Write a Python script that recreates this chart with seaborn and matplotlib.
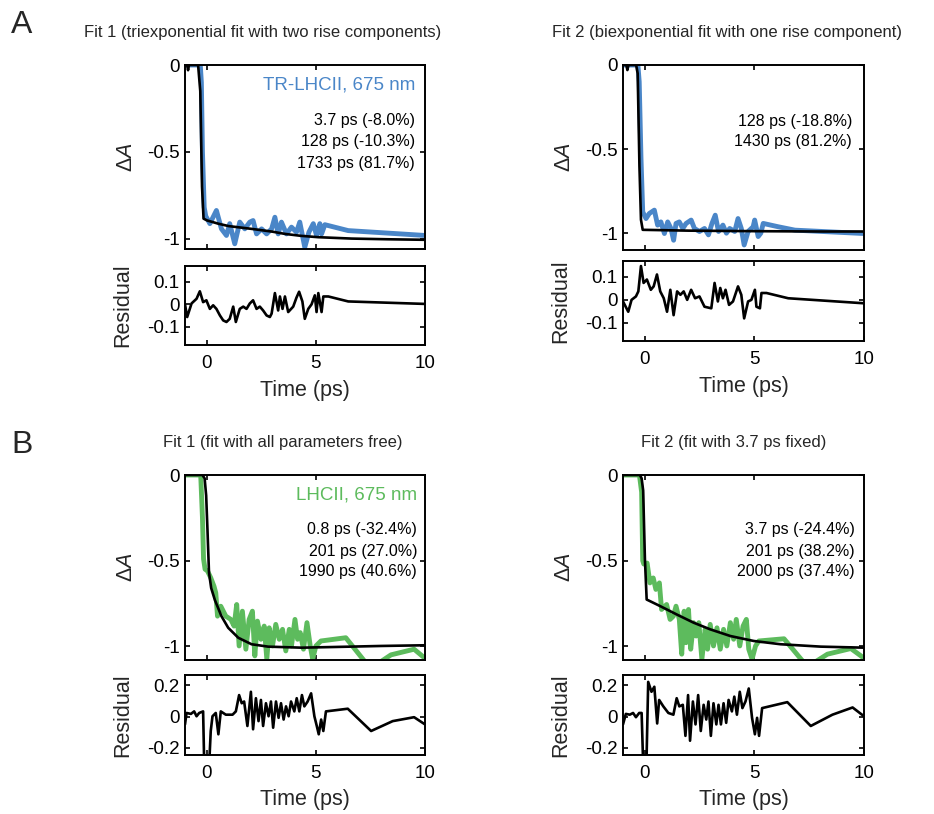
import matplotlib
matplotlib.use("Agg")
import matplotlib.pyplot as plt
import seaborn as sns

# ---------------------------------------------------------------------------
# Data (time in ps, transient absorption normalised to -1)
# ---------------------------------------------------------------------------
# A, fit 1: TR-LHCII trace, triexponential fit, residual
t_a1_data = [-1.0, -0.6, -0.3, -0.25, -0.2, -0.12, -0.05, 0.14, 0.44, 0.67, 0.90, 1.05,
             1.28, 1.51, 1.74, 1.97, 2.12, 2.28, 2.51, 2.74, 2.97, 3.12, 3.27, 3.42,
             3.65, 3.88, 4.11, 4.26, 4.49, 4.68, 4.88, 5.03, 5.18, 5.26, 5.41, 6.48, 10.0]
a1_data = [0.0, 0.0, 0.0, -0.1, -0.5, -0.82, -0.87, -0.914, -0.838, -0.944, -0.982, -0.914,
           -1.03, -0.905, -0.944, -0.905, -0.896, -0.973, -0.944, -0.973, -0.944, -0.877, -0.973, -0.905,
           -0.973, -0.934, -0.963, -0.905, -1.05, -0.963, -0.914, -0.982, -0.914, -0.973, -0.92, -0.954, -0.982]
t_a1_fit = [-1.0, -0.9, -0.86, -0.82, -0.4, -0.3, -0.22, -0.15, 0.0, 0.52, 1.0, 2.05,
            3.0, 3.58, 4.3, 5.11, 6.64, 8.3, 10.0]
a1_fit = [0.0, 0.0, -0.03, 0.0, 0.0, -0.15, -0.7, -0.885, -0.895, -0.914, -0.928, -0.944,
          -0.96, -0.973, -0.984, -0.992, -1.0, -1.004, -1.007]
t_a1_res = [-1.0, -0.9, -0.7, -0.47, -0.32, -0.17, -0.02, 0.14, 0.29, 0.44,
            0.6, 0.75, 0.9, 1.05, 1.21, 1.33, 1.51, 1.67, 1.82, 1.97,
            2.12, 2.28, 2.43, 2.58, 2.74, 2.89, 2.97, 3.12, 3.27, 3.35,
            3.47, 3.58, 3.73, 3.96, 4.11, 4.23, 4.38, 4.49, 4.65, 4.8,
            4.95, 5.03, 5.11, 5.26, 5.34, 5.57, 6.48, 10.0]
a1_res = [0.0, -0.056, 0.004, 0.025, 0.058, 0.01, 0.018, -0.02, -0.004, -0.02,
          -0.049, -0.071, -0.078, -0.064, -0.01, -0.078, -0.02, -0.01, -0.02, 0.004,
          0.018, -0.02, -0.01, -0.027, -0.049, -0.056, -0.041, 0.05, -0.027, 0.035,
          -0.02, 0.035, -0.034, -0.01, 0.03, 0.056, 0.013, -0.064, -0.02, 0.0,
          0.04, -0.034, 0.05, -0.034, 0.035, 0.035, 0.013, 0.002]

# A, fit 2: TR-LHCII trace, biexponential fit, residual
t_a2_data = [-1.0, -0.6, -0.32, -0.26, -0.18, -0.1, 0.05, 0.2, 0.43, 0.58,
             0.73, 0.89, 1.04, 1.19, 1.31, 1.42, 1.57, 1.73, 1.88, 2.11,
             2.26, 2.49, 2.72, 2.9, 3.06, 3.21, 3.36, 3.56, 3.72, 3.87,
             4.1, 4.25, 4.4, 4.53, 4.71, 4.94, 5.01, 5.17, 5.29, 5.4,
             6.09, 6.85, 10.0]
a2_data = [0.0, 0.0, 0.0, -0.1, -0.55, -0.873, -0.913, -0.883, -0.863, -0.952,
           -0.933, -1.002, -0.933, -0.972, -1.042, -0.942, -0.933, -0.972, -0.942, -0.922,
           -0.972, -0.99, -0.972, -1.01, -0.942, -0.893, -0.99, -0.952, -1.0, -0.972,
           -0.99, -0.913, -0.972, -1.07, -0.99, -0.962, -0.922, -1.02, -1.0, -0.942,
           -0.962, -0.982, -1.002]
t_a2_fit = [-1.0, -0.85, -0.8, -0.75, -0.4, -0.33, -0.25, -0.18, -0.1, 2.0, 5.0, 8.0, 10.0]
a2_fit = [0.0, 0.0, -0.03, 0.0, 0.0, -0.05, -0.6, -0.92, -0.98, -0.985, -0.988, -0.99, -0.99]
t_a2_res = [-1.0, -0.76, -0.61, -0.41, -0.3, -0.18, -0.06, 0.09, 0.27, 0.4,
            0.55, 0.7, 0.86, 1.01, 1.16, 1.31, 1.47, 1.62, 1.77, 1.93,
            2.11, 2.29, 2.49, 2.72, 3.03, 3.18, 3.33, 3.44, 3.56, 3.68,
            3.84, 4.02, 4.25, 4.4, 4.53, 4.71, 4.86, 5.02, 5.09, 5.25,
            5.32, 5.55, 6.54, 10.0]
a2_res = [-0.007, -0.052, 0.0, 0.015, 0.037, 0.148, 0.074, 0.089, 0.044, 0.059,
          0.111, 0.037, 0.007, -0.052, 0.044, -0.067, 0.037, 0.022, 0.037, 0.0,
          0.044, 0.007, 0.015, -0.03, -0.037, 0.074, -0.007, 0.052, 0.007, 0.044,
          -0.022, -0.007, 0.059, 0.022, -0.081, -0.007, 0.0, 0.044, -0.03, -0.037,
          0.03, 0.03, 0.007, -0.015]

# B, fit 1: LHCII trace, all parameters free
t_b1_data = [-1.0, -0.5, -0.28, -0.2, -0.15, -0.08, 0.03, 0.18, 0.33, 0.41,
             0.49, 0.64, 0.87, 1.10, 1.25, 1.37, 1.48, 1.63, 1.79, 1.94,
             2.09, 2.2, 2.32, 2.48, 2.63, 2.75, 2.86, 3.01, 3.16, 3.32,
             3.47, 3.62, 3.78, 3.88, 4.04, 4.16, 4.28, 4.43, 4.59, 4.74,
             4.85, 5.0, 5.23, 6.37, 7.5, 8.44, 9.5, 10.0]
b1_data = [0.0, 0.0, 0.0, -0.25, -0.49, -0.55, -0.56, -0.6, -0.65, -0.688,
           -0.824, -0.766, -0.824, -0.843, -0.882, -0.756, -0.998, -0.795, -1.017, -0.843,
           -0.795, -1.056, -0.853, -0.959, -0.882, -1.075, -0.892, -0.998, -0.872, -0.959,
           -0.901, -1.027, -0.901, -0.998, -0.843, -0.959, -0.92, -1.017, -0.862, -0.998,
           -1.075, -0.998, -0.969, -0.95, -1.13, -1.05, -1.017, -1.07]
t_b1_fit = [-1.0, -0.2, -0.1, -0.03, 0.03, 0.1, 0.2, 0.37, 0.67, 0.98,
            1.44, 2.05, 2.81, 4.34, 5.87, 8.0, 10.0]
b1_fit = [0.0, 0.0, -0.02, -0.12, -0.32, -0.57, -0.66, -0.73, -0.824, -0.892,
          -0.95, -0.988, -1.002, -1.008, -1.004, -0.998, -0.994]
t_b1_res = [-1.0, -0.93, -0.73, -0.58, -0.47, -0.35, -0.17, -0.12, 0.11, 0.18,
            0.26, 0.41, 0.53, 0.64, 0.87, 1.18, 1.33, 1.48, 1.6, 1.71,
            1.86, 2.02, 2.12, 2.25, 2.37, 2.48, 2.58, 2.71, 2.83, 2.94,
            3.04, 3.17, 3.29, 3.40, 3.52, 3.63, 3.75, 3.86, 4.01, 4.12,
            4.24, 4.36, 4.47, 4.62, 4.78, 4.93, 5.04, 5.13, 5.24, 5.34,
            5.46, 6.46, 7.53, 8.52, 9.5, 10.0]
b1_res = [-0.05, 0.023, 0.017, 0.033, 0.002, 0.023, 0.033, -0.3, -0.3, -0.092,
          0.002, 0.023, -0.113, 0.033, 0.012, 0.012, 0.033, 0.137, 0.085, 0.096,
          -0.06, 0.158, -0.081, 0.117, -0.029, 0.106, -0.06, 0.085, 0.002, 0.096,
          -0.071, 0.096, -0.008, 0.085, -0.019, 0.065, 0.002, 0.096, 0.033, 0.117,
          0.033, 0.137, 0.065, 0.096, 0.148, 0.002, -0.06, -0.113, -0.019, -0.092,
          0.033, 0.05, -0.092, -0.029, -0.004, -0.05]

# B, fit 2: LHCII trace, 3.7 ps component fixed
t_b2_data = [-1.0, -0.5, -0.25, -0.15, -0.1, -0.05, 0.1, 0.23, 0.38, 0.5,
             0.66, 0.76, 0.99, 1.15, 1.3, 1.42, 1.57, 1.68, 1.79, 1.88,
             1.99, 2.09, 2.22, 2.34, 2.46, 2.6, 2.75, 2.86, 2.98, 3.13,
             3.29, 3.44, 3.59, 3.74, 3.9, 4.05, 4.17, 4.33, 4.48, 4.63,
             4.74, 4.89, 5.05, 5.2, 6.35, 7.42, 8.33, 9.4, 9.86, 10.0]
b2_data = [0.0, 0.0, 0.0, -0.1, -0.5, -0.52, -0.514, -0.63, -0.601, -0.668,
           -0.63, -0.785, -0.756, -0.843, -0.824, -0.766, -0.843, -1.046, -0.795, -0.979,
           -0.785, -1.017, -0.862, -0.94, -0.862, -1.075, -0.901, -1.017, -0.872, -0.998,
           -0.892, -1.017, -0.901, -0.998, -0.862, -0.959, -0.843, -0.998, -0.882, -0.843,
           -1.017, -1.075, -0.998, -0.969, -0.956, -1.12, -1.046, -1.013, -1.056, -1.07]
t_b2_fit = [-1.0, -0.23, -0.15, -0.08, 0.0, 0.08, 0.69, 1.45, 2.22, 2.98,
            3.9, 4.97, 6.19, 8.03, 10.0]
b2_fit = [0.0, 0.0, -0.02, -0.09, -0.49, -0.727, -0.765, -0.814, -0.862, -0.901,
          -0.94, -0.969, -0.988, -1.002, -1.008]
t_b2_res = [-1.0, -0.87, -0.69, -0.54, -0.41, -0.26, -0.15, -0.08, 0.07, 0.15,
            0.3, 0.43, 0.56, 0.65, 0.84, 1.07, 1.3, 1.45, 1.57, 1.73,
            1.85, 1.97, 2.06, 2.19, 2.31, 2.43, 2.55, 2.68, 2.8, 2.9,
            3.01, 3.13, 3.26, 3.36, 3.47, 3.59, 3.71, 3.82, 3.97, 4.08,
            4.2, 4.33, 4.45, 4.59, 4.74, 4.89, 5.02, 5.12, 5.21, 5.35,
            6.5, 7.57, 8.56, 9.48, 10.0]
b2_res = [-0.05, 0.017, 0.012, 0.023, -0.004, 0.023, 0.023, -0.3, -0.3, 0.221,
          0.158, 0.19, -0.044, 0.106, 0.065, 0.023, 0.012, 0.117, 0.065, 0.075,
          -0.123, 0.137, -0.154, 0.096, -0.05, 0.137, -0.092, 0.075, -0.019, 0.096,
          -0.123, 0.085, -0.05, 0.075, -0.05, 0.085, -0.04, 0.106, 0.033, 0.127,
          0.012, 0.158, 0.054, 0.096, 0.179, -0.008, -0.113, -0.008, -0.123, 0.054,
          0.092, -0.06, 0.012, 0.058, 0.002]

# Text
sample_a = "TR-LHCII, 675 nm"
sample_b = "LHCII, 675 nm"
params_a1 = ["3.7 ps (-8.0%)", "128 ps (-10.3%)", "1733 ps (81.7%)"]
params_a2 = ["128 ps (-18.8%)", "1430 ps (81.2%)"]
params_b1 = ["0.8 ps (-32.4%)", "201 ps (27.0%)", "1990 ps (40.6%)"]
params_b2 = ["3.7 ps (-24.4%)", "201 ps (38.2%)", "2000 ps (37.4%)"]
titles = ["Fit 1 (triexponential fit with two rise components)",
          "Fit 2 (biexponential fit with one rise component)",
          "Fit 1 (fit with all parameters free)",
          "Fit 2 (fit with 3.7 ps fixed)"]
x_ticks = [0, 5, 10]
main_yticks = [-1, -0.5, 0]
main_yticklabels = ["-1", "-0.5", "0"]

# ---------------------------------------------------------------------------
# Style
# ---------------------------------------------------------------------------
sns.set_theme(style="ticks")
plt.rcParams["font.family"] = ["Liberation Sans", "DejaVu Sans"]
plt.rcParams["mathtext.fontset"] = "custom"
plt.rcParams["mathtext.rm"] = "Liberation Sans"
plt.rcParams["mathtext.it"] = "Liberation Sans:italic"
plt.rcParams["axes.unicode_minus"] = False

BLUE = "#4A86C8"
GREEN = "#5DBB5D"
W, H = 934, 814
fig = plt.figure(figsize=(W / 100, H / 100), dpi=100)


def rect(left, top, right, bottom):
    return [left / W, 1 - bottom / H, (right - left) / W, (bottom - top) / H]


def style_axes(ax):
    for s in ax.spines.values():
        s.set_linewidth(1.4)
        s.set_color("black")
    ax.tick_params(direction="in", top=True, right=True, length=3.5, width=1.2,
                   labelsize=13.5, colors="black")
    ax.tick_params(axis="x", pad=7)
    ax.tick_params(axis="y", pad=4)
    ax.set_xlim(-1, 10)
    ax.set_xticks(x_ticks)


def panel(main_box, res_box, t_d, d, t_f, f, t_r, r, color, ylim_main, ylim_res,
          res_ticks, res_labels, sample, params, text_right, text_ys, sample_y,
          xlabel_y):
    ax = fig.add_axes(rect(*main_box))
    sns.lineplot(x=t_d, y=d, ax=ax, color=color, linewidth=3.5, sort=False, estimator=None)
    sns.lineplot(x=t_f, y=f, ax=ax, color="black", linewidth=1.9, sort=False, estimator=None)
    style_axes(ax)
    ax.set_ylim(*ylim_main)
    ax.set_yticks(main_yticks)
    ax.set_yticklabels(main_yticklabels)
    ax.set_xticklabels([])
    ax.set_xlabel("")
    ax.set_ylabel(r"$\Delta\mathit{A}$", fontsize=15.5)
    ax.yaxis.set_label_coords(-0.2, 0.5)
    if sample:
        ax.text(text_right, sample_y, sample, color=color, fontsize=13.5,
                ha="right", va="center", transform=ax.transAxes)
    for s, y in zip(params, text_ys):
        ax.text(text_right, y, s, color="black", fontsize=11.5,
                ha="right", va="center", transform=ax.transAxes)

    rax = fig.add_axes(rect(*res_box))
    sns.lineplot(x=t_r, y=r, ax=rax, color="black", linewidth=1.9, sort=False, estimator=None)
    style_axes(rax)
    rax.set_ylim(*ylim_res)
    rax.set_yticks(res_ticks)
    rax.set_yticklabels(res_labels)
    rax.set_xticklabels([str(v) for v in x_ticks])
    rax.set_xlabel("Time (ps)", fontsize=15.5)
    rax.set_ylabel("Residual", fontsize=15.5)
    rax.xaxis.set_label_coords(0.5, xlabel_y)
    rax.yaxis.set_label_coords(-0.215, 0.5)
    return ax, rax


top_res_ticks = [-0.1, 0, 0.1]
top_res_labels = ["-0.1", "0", "0.1"]
bot_res_ticks = [-0.2, 0, 0.2]
bot_res_labels = ["-0.2", "0", "0.2"]

panel((185, 65, 425, 249), (185, 266, 425, 345),
      t_a1_data, a1_data, t_a1_fit, a1_fit, t_a1_res, a1_res, BLUE,
      (-1.06, 0), (-0.18, 0.17), top_res_ticks, top_res_labels,
      sample_a, params_a1, 0.958, [0.701, 0.582, 0.467], 0.891, -0.44)

panel((623, 65, 864, 250), (623, 261, 864, 341),
      t_a2_data, a2_data, t_a2_fit, a2_fit, t_a2_res, a2_res, BLUE,
      (-1.1, 0), (-0.18, 0.17), top_res_ticks, top_res_labels,
      None, params_a2, 0.950, [0.697, 0.589], None, -0.44)

panel((185, 475, 425, 660), (185, 675, 425, 755),
      t_b1_data, b1_data, t_b1_fit, b1_fit, t_b1_res, b1_res, GREEN,
      (-1.08, 0), (-0.245, 0.265), bot_res_ticks, bot_res_labels,
      sample_b, params_b1, 0.967, [0.703, 0.589, 0.476], 0.892, -0.42)

panel((623, 475, 864, 660), (623, 675, 864, 755),
      t_b2_data, b2_data, t_b2_fit, b2_fit, t_b2_res, b2_res, GREEN,
      (-1.08, 0), (-0.245, 0.265), bot_res_ticks, bot_res_labels,
      None, params_b2, 0.963, [0.703, 0.589, 0.476], None, -0.42)

# Panel letters and fit titles
fig.text(22 / W, 1 - 25 / H, "A", fontsize=23, ha="center", va="center")
fig.text(22 / W, 1 - 445 / H, "B", fontsize=23, ha="center", va="center")
fig.text(263 / W, 1 - 33 / H, titles[0], fontsize=12, ha="center", va="center")
fig.text(727 / W, 1 - 33 / H, titles[1], fontsize=12, ha="center", va="center")
fig.text(283 / W, 1 - 443 / H, titles[2], fontsize=12, ha="center", va="center")
fig.text(734 / W, 1 - 443 / H, titles[3], fontsize=12, ha="center", va="center")

fig.savefig("out.png", dpi=100, facecolor="white")
